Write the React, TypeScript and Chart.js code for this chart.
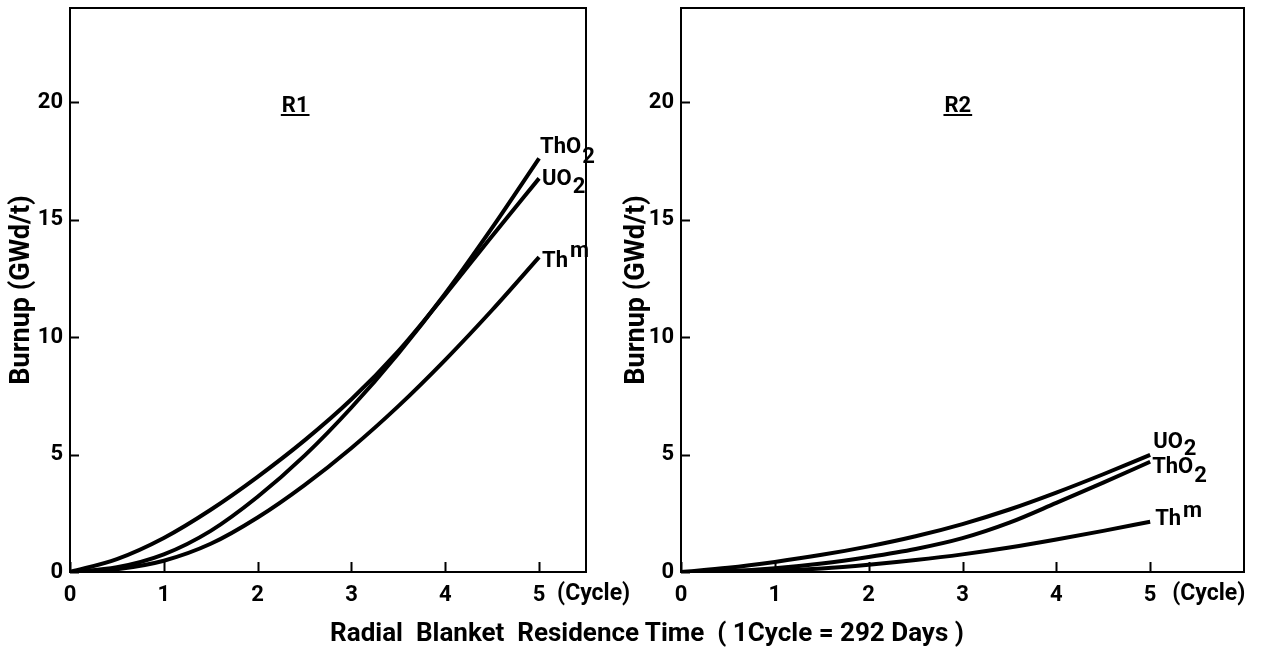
import React, { useEffect, useRef } from "react";
import { Chart, registerables } from "chart.js";

Chart.register(...registerables);

// Residence time in cycles (1 cycle = 292 days)
const cycles = [0, 0.5, 1, 1.5, 2, 2.5, 3, 3.5, 4, 4.5, 5];

// Burnup (GWd/t), radial blanket row R1
const r1ThO2 = [0, 0.2, 0.75, 1.75, 3.2, 4.95, 7.0, 9.3, 11.85, 14.65, 17.6];
const r1UO2 = [0, 0.55, 1.45, 2.65, 4.05, 5.6, 7.35, 9.4, 11.8, 14.3, 16.75];
const r1Thm = [0, 0.12, 0.48, 1.2, 2.32, 3.7, 5.28, 7.06, 9.03, 11.15, 13.4];

// Burnup (GWd/t), radial blanket row R2
const r2UO2 = [0, 0.18, 0.43, 0.73, 1.09, 1.52, 2.04, 2.66, 3.38, 4.16, 4.98];
const r2ThO2 = [0, 0.04, 0.16, 0.36, 0.64, 0.98, 1.44, 2.1, 2.94, 3.8, 4.69];
const r2Thm = [0, 0.01, 0.05, 0.15, 0.31, 0.51, 0.75, 1.04, 1.38, 1.75, 2.14];

const xTicks = [0, 1, 2, 3, 4, 5];
const yTicks = [0, 5, 10, 15, 20];

const xUnit = "(Cycle)";
const yTitle = "Burnup (GWd/t)";
const xTitle = "Radial  Blanket  Residence Time  ( 1Cycle = 292 Days )";

const FONT = "Roboto, 'DejaVu Sans', sans-serif";

type Series = {
  values: number[];
  main: string;
  sub: string;
  sup: string;
  dx: number;
  dy: number;
  shift: number; // vertical offset of the subscript / superscript
};

type PanelDef = {
  tag: string;
  tagX: number;
  left: number;
  width: number;
  padRight: number;
  axisWidth: number;
  titlePad: number;
  xMax: number;
  unitGap: number;
  series: Series[];
};

const panels: PanelDef[] = [
  {
    tag: "R1",
    tagX: 2.4,
    left: 0,
    width: 640,
    padRight: 54,
    axisWidth: 70,
    titlePad: 6,
    xMax: 5.5,
    unitGap: 18,
    series: [
      { values: r1ThO2, main: "ThO", sub: "2", sup: "", dx: 1, dy: -5, shift: 10 },
      { values: r1UO2, main: "UO", sub: "2", sup: "", dx: 3, dy: 7, shift: 8 },
      { values: r1Thm, main: "Th", sub: "", sup: "m", dx: 3, dy: 10, shift: 10 },
    ],
  },
  {
    tag: "R2",
    tagX: 2.95,
    left: 610,
    width: 659,
    padRight: 25,
    axisWidth: 71,
    titlePad: 11,
    xMax: 6,
    unitGap: 22,
    series: [
      { values: r2UO2, main: "UO", sub: "2", sup: "", dx: 3, dy: -7, shift: 7 },
      { values: r2ThO2, main: "ThO", sub: "2", sup: "", dx: 2, dy: 11, shift: 9 },
      { values: r2Thm, main: "Th", sub: "", sup: "m", dx: 5, dy: 3, shift: 8 },
    ],
  },
];

// Box frame, inward tick marks, unit text, panel tag and curve labels
const framePlugin = {
  id: "frame",
  afterDraw(chart: any, _args: any, opts: any) {
    const p: PanelDef = opts.panel;
    const { ctx, chartArea: a, scales } = chart;
    const sx = scales.x;
    const sy = scales.y;
    ctx.save();
    ctx.strokeStyle = "#000";
    ctx.fillStyle = "#000";
    ctx.lineWidth = 2;
    ctx.strokeRect(a.left, a.top, a.right - a.left, a.bottom - a.top);

    ctx.beginPath();
    for (const v of xTicks) {
      const px = Math.round(sx.getPixelForValue(v)) + 0.5;
      ctx.moveTo(px, a.bottom);
      ctx.lineTo(px, a.bottom - 10);
    }
    for (const v of yTicks) {
      const py = Math.round(sy.getPixelForValue(v)) + 0.5;
      ctx.moveTo(a.left, py);
      ctx.lineTo(a.left + 9, py);
    }
    ctx.stroke();

    // unit after the last tick label
    ctx.font = `bold 23px ${FONT}`;
    ctx.textAlign = "left";
    ctx.textBaseline = "alphabetic";
    ctx.fillText(xUnit, sx.getPixelForValue(5) + p.unitGap, a.bottom + 28);

    // underlined panel tag
    ctx.font = `bold 22px ${FONT}`;
    ctx.textAlign = "center";
    const tx = sx.getPixelForValue(p.tagX);
    const ty = sy.getPixelForValue(20) + 10;
    ctx.fillText(p.tag, tx, ty);
    const tw = ctx.measureText(p.tag).width;
    ctx.beginPath();
    ctx.moveTo(tx - tw / 2 - 1, ty + 3);
    ctx.lineTo(tx + tw / 2 + 1, ty + 3);
    ctx.stroke();

    // curve end labels
    ctx.textAlign = "left";
    ctx.font = `bold 22px ${FONT}`;
    chart.data.datasets.forEach((ds: any, i: number) => {
      const s = p.series[i];
      const last = ds.data[ds.data.length - 1];
      const ex = sx.getPixelForValue(last.x) + s.dx;
      const ey = sy.getPixelForValue(last.y) + s.dy;
      ctx.fillText(s.main, ex, ey);
      const w = ctx.measureText(s.main).width;
      if (s.sub) ctx.fillText(s.sub, ex + w + 1, ey + s.shift);
      if (s.sup) ctx.fillText(s.sup, ex + w + 2, ey - s.shift);
    });
    ctx.restore();
  },
};

function Panel({ p }: { p: PanelDef }) {
  const ref = useRef<HTMLCanvasElement>(null);
  useEffect(() => {
    const chart = new Chart(ref.current as HTMLCanvasElement, {
      type: "line",
      data: {
        datasets: p.series.map((s) => ({
          label: s.main + s.sub + s.sup,
          data: cycles.map((c, i) => ({ x: c, y: s.values[i] })),
          borderColor: "#000",
          borderWidth: 4,
          pointRadius: 0,
          fill: false,
          cubicInterpolationMode: "monotone" as const,
        })),
      },
      options: {
        animation: false,
        responsive: false,
        maintainAspectRatio: false,
        events: [],
        layout: { padding: { top: 8, right: p.padRight, left: 0, bottom: 0 } },
        plugins: {
          legend: { display: false },
          tooltip: { enabled: false },
          frame: { panel: p },
        } as any,
        scales: {
          x: {
            type: "linear",
            min: 0,
            max: p.xMax,
            grid: { display: false, drawTicks: false },
            border: { display: false },
            afterBuildTicks: (s: any) => {
              s.ticks = xTicks.map((v) => ({ value: v }));
            },
            afterFit: (s: any) => {
              s.height = 81;
              s.paddingLeft = 0;
              s.paddingRight = 0;
            },
            ticks: {
              color: "#000",
              font: { family: FONT, size: 22, weight: "bold" },
              padding: 10,
              maxRotation: 0,
              autoSkip: false,
            },
          },
          y: {
            type: "linear",
            min: 0,
            max: 24,
            grid: { display: false, drawTicks: false },
            border: { display: false },
            afterBuildTicks: (s: any) => {
              s.ticks = yTicks.map((v) => ({ value: v }));
            },
            afterFit: (s: any) => {
              s.width = p.axisWidth;
              s.paddingTop = 0;
              s.paddingBottom = 0;
            },
            ticks: {
              color: "#000",
              font: { family: FONT, size: 22, weight: "bold" },
              padding: 7,
              autoSkip: false,
            },
            title: {
              display: true,
              text: yTitle,
              color: "#000",
              font: { family: FONT, size: 27, weight: "bold" },
              padding: { top: p.titlePad, bottom: 0 },
            },
          },
        },
      },
      plugins: [framePlugin],
    });
    return () => chart.destroy();
  }, [p]);
  return (
    <canvas
      ref={ref}
      width={p.width}
      height={653}
      style={{ position: "absolute", left: p.left, top: 0, width: p.width, height: 653, display: "block" }}
    />
  );
}

export default function App() {
  return (
    <div
      style={{
        position: "fixed",
        left: 0,
        top: 0,
        width: 1269,
        height: 653,
        background: "#fff",
        overflow: "hidden",
      }}
    >
      {panels.map((p) => (
        <Panel key={p.tag} p={p} />
      ))}
      <div
        style={{
          position: "absolute",
          left: 647,
          top: 617,
          transform: "translateX(-50%)",
          whiteSpace: "pre",
          fontFamily: FONT,
          fontWeight: "bold",
          fontSize: 26,
          lineHeight: "30px",
          color: "#000",
        }}
      >
        {xTitle}
      </div>
    </div>
  );
}
